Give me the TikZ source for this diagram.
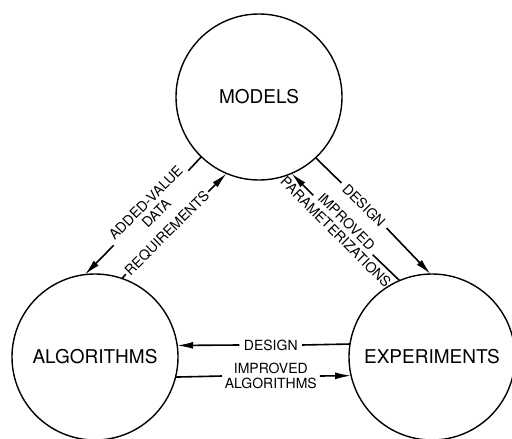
\documentclass[tikz,border=0pt]{standalone}
\usepackage{fontspec}
\setmainfont{TeX Gyre Heros}
\usetikzlibrary{arrows.meta,calc}
\begin{document}
\begin{tikzpicture}[x=1pt,y=1pt,
  circ/.style={circle,draw,line width=1.4pt,minimum size=166pt,inner sep=0pt,outer sep=0pt,font=\fontsize{19}{22}\selectfont},
  conn/.style={line width=1.6pt},
  arr/.style={conn,-{Latex[length=16pt,width=7pt]}},
  lbl/.style={font=\fontsize{14}{15}\selectfont,inner xsep=4pt,inner ysep=0pt,outer sep=0pt,align=center}]
\useasboundingbox (0,0) rectangle (512,-439);
\node[circ] (M) at (259,-97) {MODELS};
\node[circ] (A) at (95,-357) {ALGORITHMS};
\node[circ] (E) at (432,-357) {EXPERIMENTS};

% left pair
\node[lbl,rotate=45] (av) at (151,-208) {ADDED-VALUE\\DATA};
\draw[conn] (M.226.5) -- (av.east);
\draw[arr] (av.west) -- (A.97.4);
\node[lbl,rotate=45,inner xsep=2pt] (rq) at (167,-233) {REQUIREMENTS};
\draw[conn] (A.71.3) -- (rq.west);
\draw[arr] (rq.east) -- (M.247);

% right pair
\node[lbl,rotate=-45,inner xsep=5pt] (ds) at (364,-205.5) {DESIGN};
\draw[conn] (M.313.5) -- (ds.west);
\draw[arr] (ds.east) -- (E.91);
\coordinate (ipc) at (343,-225);
\node[lbl,rotate=-45] (ip) at ($(ipc)+(-1.8,-1.8)$) {IMPROVED\\PARAMETERIZATIONS};
\coordinate (ipw) at ($(ipc)+(-29.7,29.7)$);
\coordinate (ipe) at ($(ipc)+(29.7,-29.7)$);
\draw[arr] (ipw) -- (M.293);
\draw[conn] (E.113.5) -- (ipe);

% bottom pair
\node[lbl,inner xsep=4.5pt] (bd) at (270.8,-345) {DESIGN};
\draw[conn] (E.171.7) -- (bd.east);
\draw[arr] (bd.west) -- (A.8.3);
\node[lbl,inner xsep=3pt] (ia) at (270.8,-376) {IMPROVED\\ALGORITHMS};
\draw[conn] (A.346.8) -- (ia.west);
\draw[arr] (ia.east) -- (E.193.2);
\end{tikzpicture}
\end{document}
